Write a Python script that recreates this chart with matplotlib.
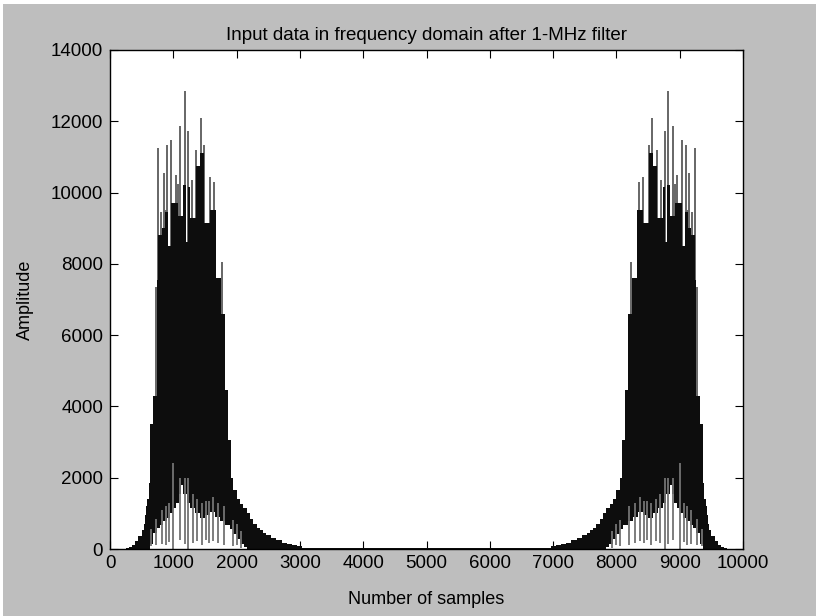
import numpy as np
import matplotlib.pyplot as plt
from matplotlib.patches import Rectangle

plt.rcParams['font.family'] = ['Liberation Sans', 'DejaVu Sans']

N_SAMPLES = 10000

# Left lobe of the spectrum. The right lobe is its mirror image
# (real input -> X[N-k] = conj(X[k])), so only one side is listed.

# upper edge of the solid (densely oscillating) trace, held until next x
top_x = [1, 250, 300, 350, 400, 450, 500, 530, 550, 570, 590, 610, 630, 672,
         735, 761, 814, 866, 919, 971, 1076, 1155, 1208, 1240, 1265, 1365,
         1418, 1490, 1585, 1680, 1759, 1811, 1864, 1915, 1950, 2000, 2050,
         2100, 2160, 2210, 2260, 2320, 2370, 2420, 2470, 2550, 2630, 2710,
         2790, 2870, 2950, 3030, 3100, 5000]
top_y = [0, 30, 60, 120, 230, 360, 520, 700, 950, 1200, 1400, 1850, 3500, 4300,
         7550, 8800, 9000, 9450, 8500, 9700, 9350, 10200, 8600, 10150, 9300,
         10750, 11100, 9150, 9500, 7600, 6600, 4450, 3050, 2000, 1650, 1400,
         1250, 1150, 1000, 850, 700, 600, 520, 450, 380, 300, 240, 180, 140,
         110, 80, 40, 20, 20]

# white gap under the trace (lowest values of the oscillation)
gap_x = [1, 630, 685, 740, 790, 840, 895, 950, 1000, 1050, 1090, 1120, 1160,
         1210, 1260, 1340, 1420, 1500, 1580, 1660, 1740, 1820, 1890, 1950,
         2000, 2060, 2110, 2160, 5000]
gap_y = [0, 150, 450, 600, 680, 780, 880, 1000, 1150, 1300, 1550, 1800, 1550,
         1300, 1150, 1000, 880, 950, 1050, 900, 780, 680, 560, 420, 280, 140,
         60, 0, 0]

# single low samples reaching down into the gap
dip_x = [647, 726, 816, 879, 937, 1000, 1105, 1184, 1237, 1305, 1368, 1447,
         1510, 1568, 1632, 1710, 1800, 1947, 2010, 2063]
dip_lo = [80, 120, 150, 120, 200, 0, 250, 150, 0, 180, 220, 120, 250, 180,
          220, 180, 120, 80, 120, 40]
dip_hi = [550, 850, 1100, 1200, 1300, 2400, 2000, 2000, 2000, 1550, 1400,
          1300, 1350, 1350, 1450, 1300, 1200, 800, 700, 500]

# isolated tall samples sticking out above the solid part
spike_x = [720, 766, 803, 856, 892, 908, 971, 1040, 1076, 1108, 1181, 1229,
           1302, 1365, 1439, 1486, 1575, 1649, 1764]
spike_y = [7350, 11250, 9450, 10550, 9500, 11340, 11480, 10500, 10250, 11860,
           12840, 11720, 10360, 11200, 12090, 11340, 10430, 10310, 8060]

x_ticks = np.arange(0, 10001, 1000)
y_ticks = np.arange(0, 14001, 2000)


def draw_lobe(ax, mirror):
    tx, ty = np.array(top_x, float), np.array(top_y, float)
    gx, gy = np.array(gap_x, float), np.array(gap_y, float)
    dx, sx = np.array(dip_x, float), np.array(spike_x, float)
    step = 'post'
    if mirror:
        tx, ty = N_SAMPLES - tx[::-1], ty[::-1]
        gx, gy = N_SAMPLES - gx[::-1], gy[::-1]
        dx, sx = N_SAMPLES - dx, N_SAMPLES - sx
        step = 'pre'
    ax.fill_between(tx, 0, ty, step=step, color='#0d0d0d', lw=0, zorder=2)
    ax.fill_between(gx, 0, gy, step=step, color='white', lw=0, zorder=3)
    ax.vlines(dx, dip_lo, dip_hi, color='0.45', lw=1.3, zorder=4)
    ax.vlines(sx, 4000, spike_y, color='0.4', lw=1.4, zorder=1)


fig = plt.figure(figsize=(8.16, 6.16), dpi=100)
fig.patch.set_facecolor('white')
fig.add_artist(Rectangle((3 / 816, 0), 1, 1 - 4 / 616, transform=fig.transFigure,
                         facecolor='#bebebe', edgecolor='none', zorder=-5))

ax = fig.add_axes([110 / 816, 1 - 549 / 616, 633 / 816, 499 / 616])
ax.set_facecolor('white')

draw_lobe(ax, mirror=False)
draw_lobe(ax, mirror=True)

ax.set_xlim(0, 10000)
ax.set_ylim(0, 14000)
ax.set_xticks(x_ticks)
ax.set_yticks(y_ticks)
ax.tick_params(direction='in', top=True, right=True, length=6, width=0.8,
               labelsize=13.5, colors='black')
ax.tick_params(axis='y', pad=5)
ax.tick_params(axis='x', pad=4)
for s in ax.spines.values():
    s.set_linewidth(1.0)
    s.set_zorder(6)

ax.set_title('Input data in frequency domain after 1-MHz filter', fontsize=13.5, pad=7)
ax.set_xlabel('Number of samples', fontsize=13, labelpad=14)
ax.set_ylabel('Amplitude', fontsize=13, labelpad=12)

fig.savefig('out.png', dpi=100, facecolor=fig.get_facecolor())
